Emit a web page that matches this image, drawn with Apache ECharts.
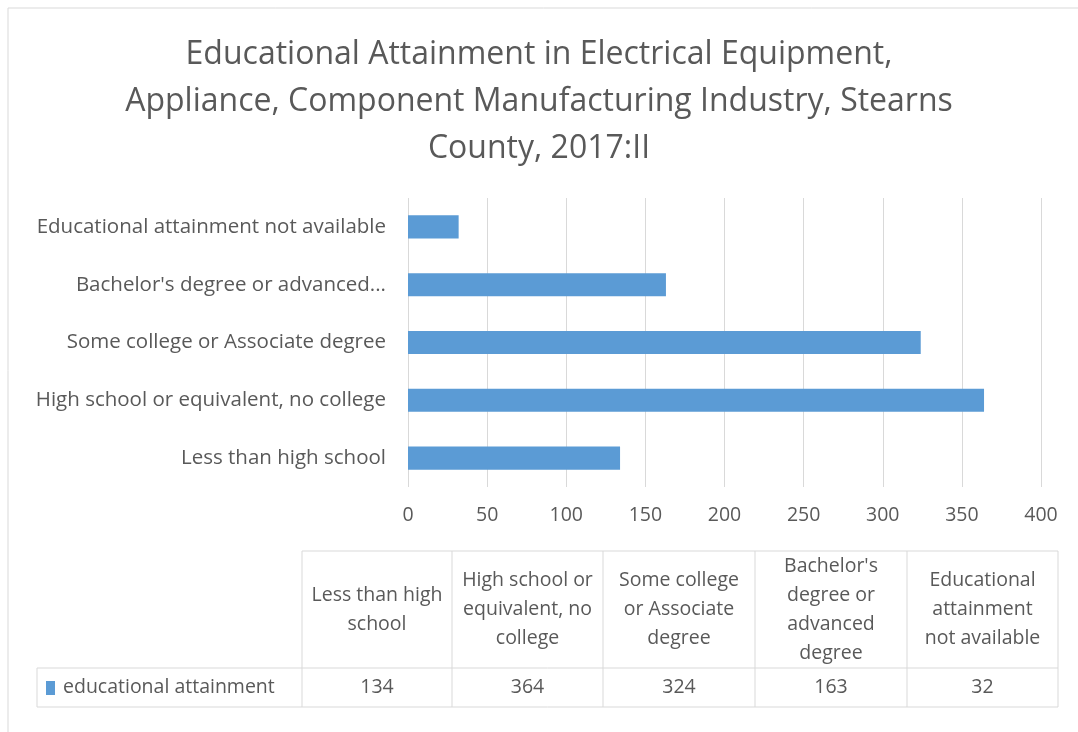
<!DOCTYPE html>
<html><head><meta charset="utf-8">
<script src="https://cdn.jsdelivr.net/npm/echarts@6/dist/echarts.min.js"></script>
<style>html,body{margin:0;padding:0;background:#fff}#c{width:1078px;height:732px}</style>
</head><body><div id="c"></div>
<script>
const titleText = 'Educational Attainment in Electrical Equipment,\nAppliance, Component Manufacturing Industry, Stearns\nCounty, 2017:II';
const categories = ['Less than high school','High school or equivalent, no college','Some college or Associate degree',"Bachelor's degree or advanced degree",'Educational attainment not available'];
const yTickLabels = ['Less than high school','High school or equivalent, no college','Some college or Associate degree',"Bachelor's degree or advanced...",'Educational attainment not available'];
const tableHeaders = ['Less than high\nschool','High school or\nequivalent, no\ncollege','Some college\nor Associate\ndegree',"Bachelor's\ndegree or\nadvanced\ndegree",'Educational\nattainment\nnot available'];
const seriesName = 'educational attainment';
const values = [134, 364, 324, 163, 32];
const xTicks = [0, 50, 100, 150, 200, 250, 300, 350, 400];

const FONT = 'Open Sans';
const TXT = '#595959';
const BLUE = '#5B9BD5';
const FS = 19.5;
const YFS = 20.5;
const chart = echarts.init(document.getElementById('c'));

// table geometry
const colX = [302, 452, 603, 755, 907, 1058];
const headTop = 551, rowTop = 668, rowBot = 707, rowLeft = 37;
const LINE = '#d9d9d9';
const g = [];
g.push({type:'rect', shape:{x:8,y:8,width:1200,height:1000}, style:{fill:'none', stroke:'#d9d9d9', lineWidth:1}, silent:true});
g.push({type:'line', shape:{x1:colX[0],y1:headTop,x2:colX[5],y2:headTop}, style:{stroke:LINE,lineWidth:1}});
g.push({type:'line', shape:{x1:rowLeft,y1:rowTop,x2:colX[5],y2:rowTop}, style:{stroke:LINE,lineWidth:1}});
g.push({type:'line', shape:{x1:rowLeft,y1:rowBot,x2:colX[5],y2:rowBot}, style:{stroke:LINE,lineWidth:1}});
g.push({type:'line', shape:{x1:rowLeft,y1:rowTop,x2:rowLeft,y2:rowBot}, style:{stroke:LINE,lineWidth:1}});
colX.forEach(x => g.push({type:'line', shape:{x1:x,y1:headTop,x2:x,y2:rowBot}, style:{stroke:LINE,lineWidth:1}}));
tableHeaders.forEach((h,i) => {
  g.push({type:'text', x:(colX[i]+colX[i+1])/2, y:(headTop+rowTop)/2,
    style:{text:h, fill:TXT, font:FS+'px "'+FONT+'"', align:'center', verticalAlign:'middle', lineHeight:29}});
});
values.forEach((v,i) => {
  g.push({type:'text', x:(colX[i]+colX[i+1])/2, y:(rowTop+rowBot)/2,
    style:{text:String(v), fill:TXT, font:FS+'px "'+FONT+'"', align:'center', verticalAlign:'middle'}});
});
g.push({type:'rect', shape:{x:46,y:681,width:9,height:14}, style:{fill:BLUE}});
g.push({type:'text', x:63, y:(rowTop+rowBot)/2, style:{text:seriesName, fill:TXT, font:FS+'px "'+FONT+'"', align:'left', verticalAlign:'middle'}});

chart.setOption({
  animation:false,
  backgroundColor:'#fff',
  title:{text:titleText, left:'center', top:26, textStyle:{fontFamily:FONT, fontSize:32, fontWeight:'normal', color:TXT, lineHeight:47}},
  grid:{left:408, right:37, top:198, bottom:245, containLabel:false},
  xAxis:{type:'value', min:0, max:400, interval:50,
    axisLine:{show:false}, axisTick:{show:false},
    axisLabel:{color:TXT, fontFamily:FONT, fontSize:FS, margin:18, formatter:v => xTicks.includes(v) ? String(v) : ''},
    splitLine:{show:true, lineStyle:{color:'#d9d9d9', width:1}}},
  yAxis:{type:'category', data:categories,
    axisLine:{show:false}, axisTick:{show:false},
    axisLabel:{color:TXT, fontFamily:FONT, fontSize:YFS, margin:22, formatter:(v, i) => yTickLabels[i]}},
  series:[{type:'bar', name:seriesName, data:values, barWidth:'40%', itemStyle:{color:BLUE}}],
  graphic:g
});
</script></body></html>
